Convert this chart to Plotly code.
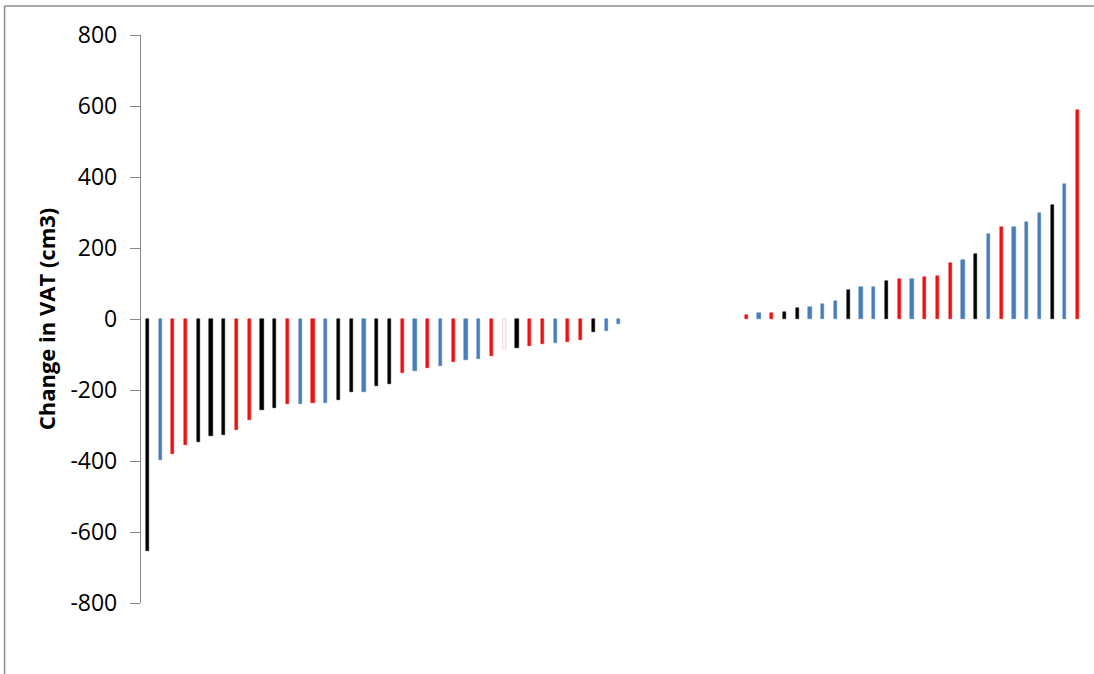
import plotly.graph_objects as go

# ---- data ----
left_values = [-653, -398, -379, -354, -346, -329, -327, -313, -285, -257,
               -250, -240, -240, -238, -238, -229, -206, -205, -190, -182,
               -152, -147, -137, -131, -120, -116, -114, -105, -84, -81,
               -75, -71, -68, -66, -60, -38, -34, -13]
left_groups = ["k", "b", "r", "r", "k", "k", "k", "r", "r", "k",
               "k", "r", "b", "r", "b", "k", "k", "b", "k", "k",
               "r", "b", "r", "b", "r", "b", "b", "r", "w", "k",
               "r", "r", "b", "r", "r", "k", "b", "b"]
gap_slots = 9
right_values = [11, 17, 17, 20, 32, 34, 43, 51, 83, 89,
                91, 106, 112, 112, 119, 120, 159, 165, 182, 240,
                259, 259, 273, 300, 322, 379, 588]
right_groups = ["r", "b", "r", "k", "k", "b", "b", "b", "k", "b",
                "b", "k", "r", "b", "r", "r", "r", "b", "k", "b",
                "r", "b", "b", "b", "k", "b", "r"]
y_ticks = [-800, -600, -400, -200, 0, 200, 400, 600, 800]
y_title = "Change in VAT (cm3)"

fill = {"k": "#000000", "b": "#4a7ebb", "r": "#ee1111", "w": "#ffffff"}
edge = {"k": "#000000", "b": "#4a7ebb", "r": "#ee1111", "w": "rgba(215,140,140,0.8)"}

values = left_values + right_values
groups = left_groups + right_groups
xs = list(range(1, len(left_values) + 1)) + \
     list(range(len(left_values) + gap_slots + 1,
                len(left_values) + gap_slots + len(right_values) + 1))
n_slots = len(left_values) + gap_slots + len(right_values)

fig = go.Figure()
fig.add_trace(go.Bar(
    x=xs, y=values, width=0.25,
    marker=dict(color=[fill[g] for g in groups],
                line=dict(color=[edge[g] for g in groups], width=0.5)),
    showlegend=False, hoverinfo="skip",
))

L, R, T, B = 141, 9.5, 34.5, 71
pw = 1094 - L - R
ph = 674 - T - B

bx = (4.5 - L) / pw
by = (674 - B - 5.5) / ph

fig.update_layout(
    width=1094, height=674, autosize=False,
    margin=dict(l=L, r=R, t=T, b=B),
    paper_bgcolor="white", plot_bgcolor="white",
    bargap=0,
    xaxis=dict(range=[0.5, n_slots + 0.5], visible=False, showgrid=False, zeroline=False),
    yaxis=dict(range=[-800, 800], tickvals=y_ticks, ticktext=[str(v) for v in y_ticks],
               showline=True, linecolor="#868686", linewidth=1.3,
               ticks="outside", ticklen=10, tickwidth=1.3, tickcolor="#868686",
               showgrid=False, zeroline=False,
               tickfont=dict(family="Open Sans", size=23, color="#000000"),
               ticklabelstandoff=8),
    annotations=[dict(text="<b>%s</b>" % y_title, xref="paper", yref="paper",
                      x=(46 - L) / pw, y=(674 - B - 319) / ph, xanchor="center", yanchor="middle",
                      textangle=-90, showarrow=False,
                      font=dict(family="Open Sans", size=22, color="#000000"))],
    shapes=[
        dict(type="line", xref="paper", yref="paper", x0=bx, x1=1.02, y0=by, y1=by,
             line=dict(color="#8c8c8c", width=1.5), layer="below"),
        dict(type="line", xref="paper", yref="paper", x0=bx, x1=bx, y0=-0.2, y1=by,
             line=dict(color="#8c8c8c", width=1.5), layer="below"),
    ],
)

fig.write_html("out.html", config={"displayModeBar": False},
               post_script="document.body.style.margin='0';document.body.style.overflow='hidden';")
